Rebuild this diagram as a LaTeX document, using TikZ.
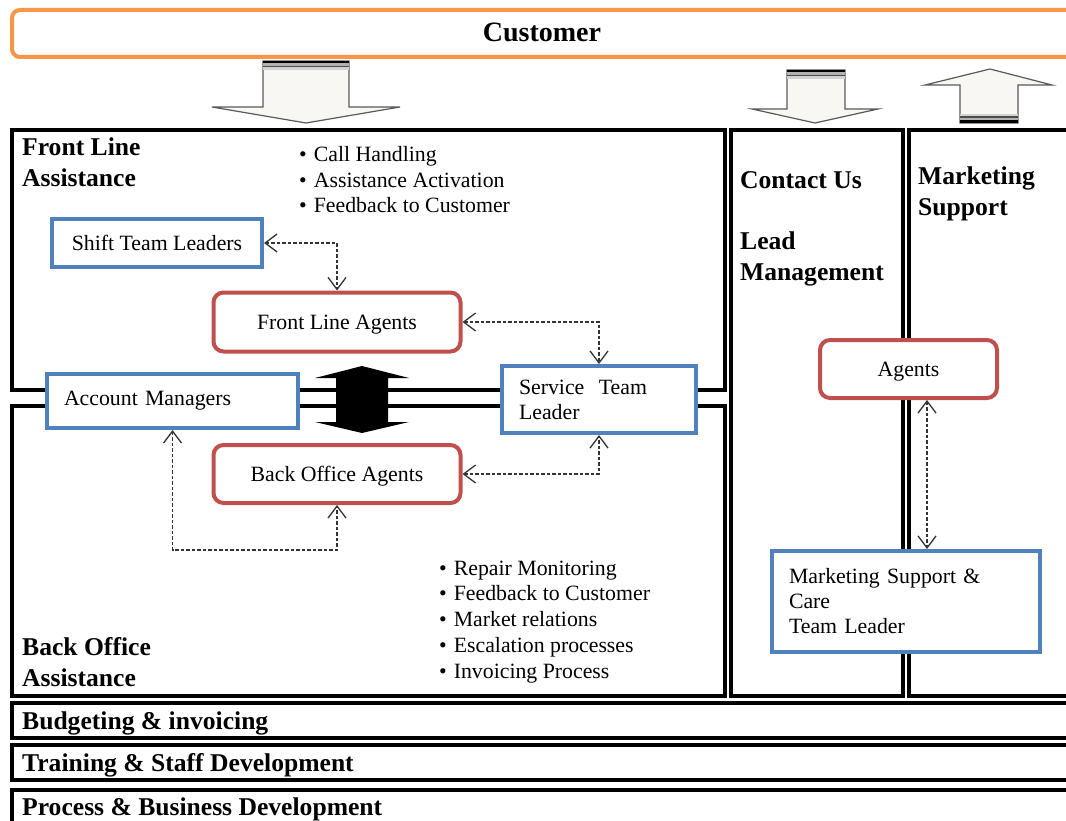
\documentclass[tikz,border=0pt]{standalone}
\usepackage{fontspec}
\setmainfont{Liberation Serif}
\usetikzlibrary{arrows.meta,positioning}

\definecolor{custorange}{HTML}{F79646}
\definecolor{leadblue}{HTML}{4F81BD}
\definecolor{agentred}{HTML}{C0504D}
\definecolor{blockfill}{HTML}{F8F7F3}

\tikzset{
  frame/.style={draw=black, line width=4pt},
  % multi-line nodes sit on the baseline of their last line
  heading/.style={anchor=base west, inner sep=0pt, align=left,
    font=\fontsize{25.6}{31}\selectfont\bfseries},
  tasks/.style={anchor=base west, inner sep=0pt, align=left,
    font=\fontsize{21.8}{25.7}\selectfont},
  agent/.style={draw=agentred, line width=4pt, rounded corners=10pt, fill=white,
    text depth=0pt, font=\fontsize{21.8}{25}\selectfont},
  lead/.style={draw=leadblue, line width=4pt, fill=white, align=left, inner xsep=17pt,
    font=\fontsize{21.8}{25}\selectfont},
  link/.style={draw=black!80, line width=1.3pt, dash pattern=on 3.5pt off 2pt,
    {Straight Barb[length=12pt,width=18pt,line width=1.3pt]}-{Straight Barb[length=12pt,width=18pt,line width=1.3pt]}},
  blockarrow/.style={fill=blockfill, draw=black!65, line width=1.2pt, line join=miter}
}

% stripes at the tail of a block arrow: #1,#2 = x range, #3 = y of the outer edge, #4 = +1 down / -1 up
\newcommand{\tailbands}[4]{%
  \fill[black] (#1,#3) rectangle (#2,#3+2.5*#4);
  \fill[gray!60] (#1,#3+2.5*#4) rectangle (#2,#3+5*#4);
  \fill[black!70] (#1,#3+5*#4) rectangle (#2,#3+6.5*#4);
  \fill[gray!35] (#1,#3+6.5*#4) rectangle (#2,#3+9*#4);
}

\begin{document}
\begin{tikzpicture}[x=1pt,y=-1pt]
    \useasboundingbox (0,0) rectangle (1066,821);
    \clip (0,0) rectangle (1066,821);

    % customer bar
    \draw[draw=custorange, line width=4pt, rounded corners=8pt, fill=white] (12,10) rectangle (1090,57);
    \node[anchor=base, inner sep=0pt, font=\fontsize{28}{32}\selectfont\bfseries] (cust) at (542,42) {Customer};

    % areas
    \draw[frame] (12,130) rectangle (725,390);
    \draw[frame] (12,406) rectangle (725,696);
    \draw[frame] (731,130) rectangle (903,696);
    \draw[frame] (909,130) rectangle (1090,696);
    \draw[frame] (12,703) rectangle (1090,738);
    \draw[frame] (12,745) rectangle (1090,780);
    \draw[frame] (12,790) rectangle (1090,850);

    \node[heading] (flhead) at (22,187) {Front Line\\Assistance};
    \node[heading] (bohead) at (22,686) {Back Office\\Assistance};
    \node[heading] (cuhead) at (740,280) {Contact Us\\[30pt]Lead\\Management};
    \node[heading] (mshead) at (918,216) {Marketing\\Support};
    \node[heading] (budget) at (22,729) {Budgeting \& invoicing};
    \node[heading] (train) at (22,771) {Training \& Staff Development};
    \node[heading] (process) at (22,815) {Process \& Business Development};

    \node[tasks] (fltasks) at (299,213) {\textbullet\hspace{7pt}Call Handling\\
      \textbullet\hspace{7pt}Assistance Activation\\
      \textbullet\hspace{7pt}Feedback to Customer};
    \node[tasks] (botasks) at (439,678) {\textbullet\hspace{7pt}Repair Monitoring\\
      \textbullet\hspace{7pt}Feedback to Customer\\
      \textbullet\hspace{7pt}Market relations\\
      \textbullet\hspace{7pt}Escalation processes\\
      \textbullet\hspace{7pt}Invoicing Process};

    % block arrows between customer and areas
    \filldraw[blockarrow] (263,61) -- (349,61) -- (349,107) -- (400,107) -- (306,123)
      -- (212,107) -- (263,107) -- cycle;
    \tailbands{263}{349}{61}{1}
    \filldraw[blockarrow] (787,70) -- (845,70) -- (845,109) -- (878,109) -- (815,123)
      -- (752,109) -- (787,109) -- cycle;
    \tailbands{787}{845}{70}{1}
    \filldraw[blockarrow] (960,123) -- (1018,123) -- (1018,85) -- (1052,85) -- (990,69)
      -- (925,85) -- (960,85) -- cycle;
    \tailbands{960}{1018}{123}{-1}

    % front line <-> back office
    \fill[black] (362,366) -- (409,378) -- (388,378) -- (388,422) -- (409,422) -- (362,433)
      -- (315,422) -- (336,422) -- (336,378) -- (315,378) -- cycle;

    % people
    \node[lead, minimum width=210pt, minimum height=48pt] (stl) at (157,243) {Shift Team Leaders};
    \node[agent, minimum width=247pt, minimum height=59pt] (fla) at (337,322) {Front Line Agents};
    \node[lead, text width=217pt, minimum height=54pt] (am) at (172.5,401) {Account Managers};
    \node[lead, text width=160pt, minimum height=67pt] (svc) at (599,399.5) {Service~~Team\\Leader};
    \node[agent, minimum width=247pt, minimum height=58pt] (boa) at (337,474) {Back Office Agents};
    \node[agent, minimum width=177pt, minimum height=58pt] (ag) at (908.5,369) {Agents};
    \node[lead, text width=234pt, minimum height=101pt] (mkt) at (906,601.5) {Marketing Support \&\\Care\\Team Leader};

    \draw[link] (stl.east) -| (fla.north);
    \draw[link] (fla.east) -| (svc.north);
    \draw[link] (boa.east) -| (svc.south);
    \draw[link] (am.south) -- ++(0,120) -| (boa.south);
    \draw[link] ([xshift=18.5pt]ag.south) -- ([xshift=18.5pt]ag.south |- mkt.north);
\end{tikzpicture}
\end{document}
